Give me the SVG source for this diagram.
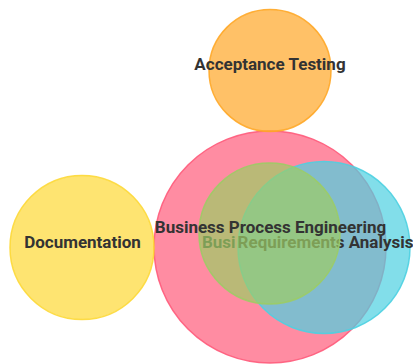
<svg xmlns="http://www.w3.org/2000/svg" width="413" height="364" viewBox="0 0 413 364">
<style>
  .c { fill-opacity: 0.7; stroke-width: 1.5; stroke-opacity: 0.9; }
  .lbl { font-family: Roboto, "Liberation Sans", sans-serif; font-size: 17px; font-weight: 700; fill: #333333; text-anchor: middle; }
</style>
<rect width="413" height="364" fill="#ffffff"/>
<g id="connectors"/>
<g id="node-bpe">
  <circle class="c" cx="270" cy="247" r="116" fill="#ff5b7b" stroke="#ff5b7b"/>
</g>
<g id="node-ra">
  <circle class="c" cx="324" cy="247.5" r="86" fill="#4dd0e1" stroke="#4dd0e1"/>
  <text class="lbl" x="325.5" y="248">Requirements Analysis</text>
</g>
<g id="node-br">
  <text class="lbl" x="202" y="248" style="text-anchor:start">Busi</text>
  <circle class="c" cx="269.5" cy="233.5" r="70.5" fill="#9ccc65" stroke="#9ccc65"/>
</g>
<g id="node-bpe-label">
  <text class="lbl" x="270.5" y="233">Business Process Engineering</text>
</g>
<g id="node-doc">
  <circle class="c" cx="82" cy="247.5" r="72" fill="#fdd835" stroke="#fdd835"/>
  <text class="lbl" x="82.5" y="248">Documentation</text>
</g>
<g id="node-at">
  <circle class="c" cx="270" cy="70.5" r="61" fill="#ffa726" stroke="#ffa726"/>
  <text class="lbl" x="270" y="70">Acceptance Testing</text>
</g>
</svg>
